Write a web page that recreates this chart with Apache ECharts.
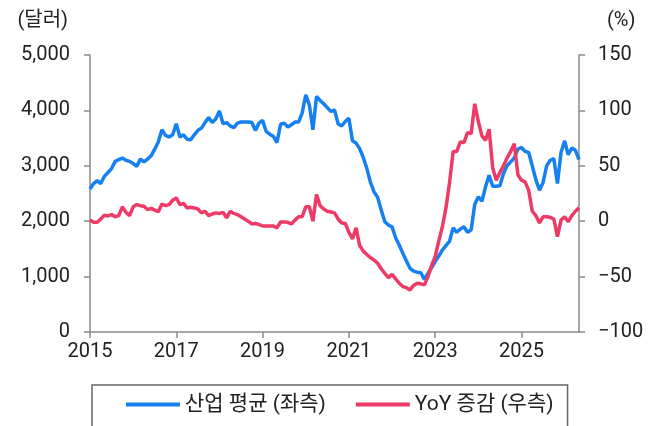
<!DOCTYPE html>
<html>
<head>
<meta charset="utf-8">
<script src="https://cdn.jsdelivr.net/npm/echarts@6/dist/echarts.min.js"></script>
<style>
  html, body { margin: 0; padding: 0; background: #fff; }
  #main { width: 668px; height: 426px; }
</style>
</head>
<body>
<div id="main"></div>
<script>
// monthly, 2015-01 .. 2026-05
var startYear = 2015;
var monthCount = 137;
var months = [];
for (var i = 0; i < monthCount; i++) {
    var y = startYear + Math.floor(i / 12);
    var m = (i % 12) + 1;
    months.push(y + '-' + (m < 10 ? '0' + m : m));
}

// 산업 평균 (달러), left axis
var avgPrice = [
    2580, 2680, 2730, 2680, 2810, 2880, 2950, 3080, 3110, 3140, 3100, 3080,
    3040, 2990, 3120, 3070, 3120, 3180, 3300, 3430, 3650, 3550, 3520, 3560,
    3760, 3520, 3560, 3480, 3470, 3560, 3640, 3680, 3780, 3870, 3780, 3850,
    3990, 3760, 3780, 3720, 3690, 3770, 3790, 3790, 3790, 3780, 3640, 3770,
    3820, 3620, 3570, 3530, 3420, 3750, 3770, 3700, 3740, 3790, 3790, 3950,
    4280, 4100, 3650, 4250, 4180, 4120, 4050, 3980, 4010, 3760, 3720, 3800,
    3860, 3450, 3410, 3310, 3150, 2950, 2700, 2530, 2430, 2200, 1990, 1930,
    1900, 1700, 1570, 1420, 1280, 1150, 1100, 1080, 1070, 950, 1060, 1160,
    1270, 1370, 1480, 1560, 1640, 1880, 1800, 1860, 1900, 1800, 1840, 2300,
    2440, 2360, 2620, 2830, 2630, 2630, 2640, 2860, 3000, 3070, 3140, 3300,
    3330, 3260, 3240, 3000, 2750, 2560, 2700, 3000, 3100, 3130, 2680, 3240,
    3450, 3200, 3320, 3280, 3110
];

// YoY 증감 (%), right axis
var yoyChange = [
    1, -1, -1, 2, 5.5, 4.7, 6, 4, 5, 13, 8, 5,
    13, 15, 14, 13.5, 10.5, 11.5, 10, 8.5, 15.5, 14, 15, 19,
    21, 15, 16, 12, 12.5, 12, 11, 7.5, 9, 5, 6.5, 7.5,
    7, 8, 3, 9, 7, 6, 4, 2, 0, -2.5, -2, -3,
    -4.3, -4.3, -4.3, -4.3, -6, -0.7, -0.7, -1, -2.5, 1, 4, 4,
    13, 13, 0, 24, 14, 11, 9, 8.3, 7.5, 2, -1.6, -2,
    -10, -16, -6, -22, -27, -30, -33, -35, -38, -43, -47, -51,
    -48, -52, -56, -59, -60, -62, -58, -56, -56.5, -57.5, -50, -40,
    -32, -18, -5, 12, 35, 63, 63, 71.5, 71, 80, 79, 106,
    90, 77, 73, 83, 48, 37, 44, 50, 57, 63, 70, 42,
    37, 35.5, 28, 9, 5, -1.5, 4, 4, 3.5, 2, -14, 1,
    4, -0.5, 5, 9, 12
];

var seriesNames = ['산업 평균 (좌측)', 'YoY 증감 (우측)'];

var myChart = echarts.init(document.getElementById('main'));
var font = 'Roboto, "Noto Sans CJK KR", sans-serif';
var axisGray = '#8a8a8a';

var option = {
    animation: false,
    textStyle: { fontFamily: font },
    grid: { left: 90, right: 89, top: 55, bottom: 94 },
    legend: {
        data: seriesNames,
        left: 92,
        top: 385,
        orient: 'horizontal',
        padding: [9, 14, 40, 34],
        borderColor: '#666',
        borderWidth: 1.5,
        itemWidth: 54,
        itemHeight: 4,
        itemGap: 30,
        icon: 'rect',
        textStyle: { fontSize: 21, color: '#222', fontFamily: font }
    },
    xAxis: {
        type: 'category',
        data: months,
        boundaryGap: false,
        axisLine: { lineStyle: { color: axisGray, width: 1.5 } },
        axisTick: {
            length: 6,
            interval: function (idx) { return idx % 24 === 0; },
            lineStyle: { color: axisGray, width: 1.5 }
        },
        axisLabel: {
            interval: function (idx) { return idx % 24 === 0; },
            formatter: function (v) { return v.slice(0, 4); },
            fontSize: 20,
            color: '#222',
            margin: 10
        }
    },
    yAxis: [{
        type: 'value',
        min: 0,
        max: 5000,
        interval: 1000,
        name: '(달러)',
        nameLocation: 'end',
        nameGap: 24,
        nameTextStyle: { fontSize: 20, color: '#222', align: 'right', padding: [0, 22, 0, 0] },
        splitLine: { show: false },
        axisLine: { show: true, lineStyle: { color: axisGray, width: 1.5 } },
        axisTick: { show: true, length: 6, lineStyle: { color: axisGray, width: 1.5 } },
        axisLabel: { fontSize: 20, color: '#222', margin: 20 }
    }, {
        type: 'value',
        min: -100,
        max: 150,
        interval: 50,
        position: 'right',
        name: '(%)',
        nameLocation: 'end',
        nameGap: 24,
        nameTextStyle: { fontSize: 20, color: '#222', align: 'left', padding: [0, 0, 0, 28] },
        splitLine: { show: false },
        axisLine: { show: true, lineStyle: { color: axisGray, width: 1.5 } },
        axisTick: { show: true, length: 6, lineStyle: { color: axisGray, width: 1.5 } },
        axisLabel: {
            fontSize: 20, color: '#222', margin: 19,
            formatter: function (v) { return v < 0 ? '\u2212' + Math.abs(v) : String(v); }
        }
    }],
    series: [{
        name: seriesNames[0],
        type: 'line',
        yAxisIndex: 0,
        data: avgPrice,
        showSymbol: false,
        lineStyle: { color: '#1580f0', width: 3.5 },
        itemStyle: { color: '#1580f0' }
    }, {
        name: seriesNames[1],
        type: 'line',
        yAxisIndex: 1,
        data: yoyChange,
        showSymbol: false,
        lineStyle: { color: '#ee3a66', width: 3.5 },
        itemStyle: { color: '#ee3a66' }
    }]
};
myChart.setOption(option);
</script>
</body>
</html>
